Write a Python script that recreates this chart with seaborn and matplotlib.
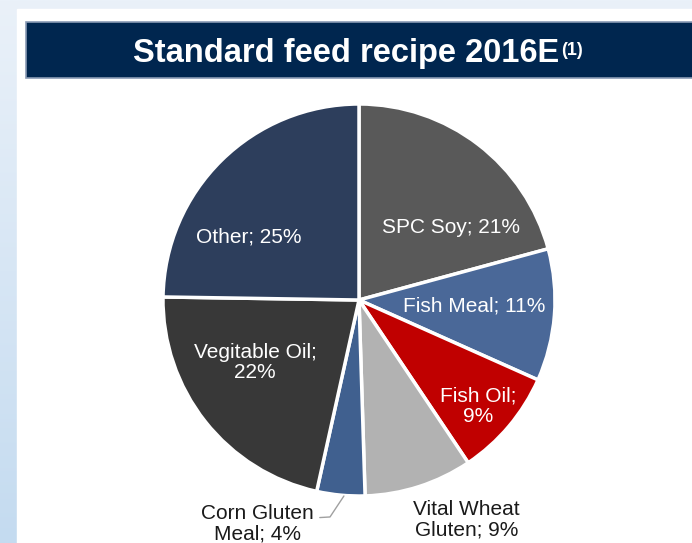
import numpy as np
import matplotlib.pyplot as plt
import seaborn as sns
from matplotlib.patches import Rectangle

sns.set_theme(style="white")
plt.rcParams['font.family'] = ['Liberation Sans', 'DejaVu Sans']

# data, clockwise from 12 o'clock
ingredients = ["SPC Soy", "Fish Meal", "Fish Oil", "Vital Wheat Gluten",
               "Corn Gluten Meal", "Vegitable Oil", "Other"]
shares = [21, 11, 9, 9, 4, 22, 25]
labels = ["SPC Soy; 21%", "Fish Meal; 11%", "Fish Oil;\n9%", "Vital Wheat\nGluten; 9%",
          "Corn Gluten\nMeal; 4%", "Vegitable Oil;\n22%", "Other; 25%"]
colors = ["#595959", "#4a6898", "#c00000", "#b2b2b2", "#40608f", "#383838", "#2d3e5c"]

# label placement (pie units) and text colour
label_pos = [(0.47, 0.37), (0.59, -0.03), (0.61, -0.54), (0.55, -1.12),
             (-0.52, -1.14), (-0.53, -0.32), (-0.56, 0.32)]
label_col = ["white", "white", "white", "#1a1a1a", "#1a1a1a", "white", "white"]

W, H = 692, 543
fig = plt.figure(figsize=(W / 100, H / 100), dpi=100)

# background gradient strip + white panel
bg = fig.add_axes([0, 0, 1, 1])
grad = np.linspace(0, 1, 256).reshape(-1, 1)
bg.imshow(grad, aspect="auto", extent=[0, 1, 0, 1], origin="upper",
          cmap=sns.blend_palette(["#eaf1f9", "#c4dbf0"], as_cmap=True))
bg.add_patch(Rectangle((17 / W, 0), 1, 1 - 9 / H, color="white", zorder=2))
bg.add_patch(Rectangle((26 / W, 1 - 78 / H), 1, 56 / H, facecolor="#00264f",
                       edgecolor="#8a9bb5", linewidth=1.2, zorder=3))
bg.set_xlim(0, 1)
bg.set_ylim(0, 1)
bg.axis("off")

fig.text(346 / W, 1 - 62 / H, "Standard feed recipe 2016E", color="white",
         fontsize=23.5, fontweight="bold", ha="center", va="baseline")
fig.text(561 / W, 1 - 55 / H, "(1)", color="white", fontsize=13,
         fontweight="bold", ha="left", va="baseline")

# pie axes laid over the whole figure; 1 unit = 196 px, centre at (359, 300)
ax = fig.add_axes([0, 0, 1, 1])
r = 196
cx, cy = 359, 300
ax.pie(shares, colors=colors, startangle=90, counterclock=False, radius=1,
       wedgeprops=dict(edgecolor="white", linewidth=2.5))
ax.set_aspect("auto")
ax.set_xlim(-cx / r, (W - cx) / r)
ax.set_ylim(-(H - cy) / r, cy / r)
ax.axis("off")

for lab, (x, y), c in zip(labels, label_pos, label_col):
    ax.text(x, y, lab, color=c, fontsize=15, ha="center", va="center",
            linespacing=1.1)

# leader line for the small slice
ax.plot([-0.077, -0.148, -0.2], [-1.0, -1.107, -1.11], color="#a0a0a0", lw=1)

fig.savefig("out.png", dpi=100)
